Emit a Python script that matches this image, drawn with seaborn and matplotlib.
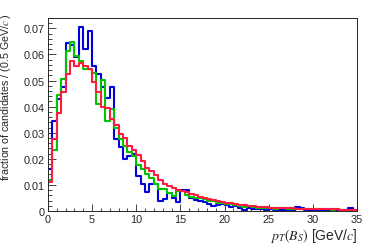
import numpy as np
import pandas as pd
import seaborn as sns
import matplotlib.pyplot as plt

# bin edges, 0.5 GeV wide
edges = np.arange(0, 35.01, 0.5)
centers = 0.5 * (edges[:-1] + edges[1:])

blue = [0.016, 0.0345, 0.043, 0.0475, 0.0645, 0.0635, 0.059, 0.0705, 0.062, 0.069,
        0.0554, 0.0525, 0.0475, 0.0435, 0.0474, 0.0276, 0.0244, 0.020, 0.021, 0.022,
        0.0135, 0.0105, 0.0072, 0.0105, 0.0105, 0.004, 0.0045, 0.0068, 0.005, 0.0034,
        0.0082, 0.0082, 0.005, 0.0042, 0.004, 0.0035, 0.0025, 0.002, 0.0022, 0.0025,
        0.0022, 0.0015, 0.0018, 0.0012, 0.0005, 0.001, 0.0008, 0.0006, 0.0008, 0.0005,
        0.0006, 0.0004, 0.0005, 0.0003, 0.0004, 0.0003, 0.0015, 0.0012, 0.0004, 0.0003,
        0.0004, 0.0003, 0.0005, 0.0002, 0.0004, 0.0003, 0.0003, 0.0002, 0.001, 0.0003]

green = [0.012, 0.0235, 0.0445, 0.0505, 0.0612, 0.0646, 0.0595, 0.0575, 0.0545, 0.0544,
         0.053, 0.041, 0.0503, 0.0346, 0.039, 0.032, 0.0276, 0.025, 0.0225, 0.021,
         0.0175, 0.016, 0.0142, 0.0128, 0.0102, 0.0083, 0.0083, 0.007, 0.0058, 0.0075,
         0.0078, 0.006, 0.0055, 0.005, 0.0048, 0.0045, 0.004, 0.0038, 0.0032, 0.003,
         0.0028, 0.0025, 0.0022, 0.002, 0.0016, 0.0018, 0.0014, 0.0012, 0.0012, 0.001,
         0.0012, 0.0009, 0.001, 0.0012, 0.0008, 0.0009, 0.0007, 0.0008, 0.0006, 0.0007,
         0.0006, 0.0007, 0.0009, 0.0006, 0.0005, 0.0006, 0.0005, 0.0005, 0.0004, 0.0004]

red = [0.011, 0.0276, 0.0375, 0.0455, 0.0525, 0.0576, 0.0557, 0.0566, 0.0557, 0.0545,
       0.0495, 0.0455, 0.040, 0.0395, 0.0352, 0.033, 0.0295, 0.028, 0.025, 0.0235,
       0.0215, 0.0193, 0.0165, 0.0155, 0.0138, 0.012, 0.0104, 0.0095, 0.0088, 0.008,
       0.0076, 0.0072, 0.0066, 0.006, 0.0055, 0.005, 0.0047, 0.0042, 0.0038, 0.0035,
       0.0032, 0.003, 0.0027, 0.0024, 0.0022, 0.002, 0.0019, 0.0017, 0.0016, 0.0014,
       0.0013, 0.0012, 0.0012, 0.0011, 0.001, 0.001, 0.0009, 0.0009, 0.0008, 0.0008,
       0.0008, 0.0007, 0.0007, 0.0006, 0.0006, 0.0006, 0.0005, 0.0005, 0.0005, 0.0004]

sns.set_style('ticks')
plt.rcParams['font.family'] = ['Liberation Sans', 'DejaVu Sans']
plt.rcParams['mathtext.fontset'] = 'stix'

fig = plt.figure(figsize=(3.74, 2.53), dpi=100)
ax = fig.add_axes([0.128, 0.162, 0.827, 0.763])

for vals, col in [(blue, '#0000dd'), (green, '#00c400'), (red, '#ff1a40')]:
    df = pd.DataFrame({'pt': centers, 'frac': vals})
    sns.histplot(data=df, x='pt', weights='frac', bins=list(edges), element='step',
                 fill=False, color=col, linewidth=1.5, ax=ax)

ax.set_xlim(0, 35)
ax.set_ylim(0, 0.074)
ax.set_xticks(np.arange(0, 36, 5))
ax.set_xticks(np.arange(0, 36, 1), minor=True)
ax.set_yticks(np.arange(0, 0.071, 0.01))
ax.set_yticks(np.arange(0, 0.0741, 0.002), minor=True)
ax.set_yticklabels(['0'] + ['%.2f' % v for v in np.arange(0.01, 0.071, 0.01)])
ax.tick_params(axis='both', which='both', direction='in', labelsize=7.8, width=0.6,
               top=False, right=False, pad=2)
ax.tick_params(axis='y', which='major', length=6)
ax.tick_params(axis='y', which='minor', length=3)
ax.tick_params(axis='x', which='major', length=5)
ax.tick_params(axis='x', which='minor', length=2.5)
for s in ax.spines.values():
    s.set_linewidth(0.7)

# style plot
ax.set_xlabel(r'$p_{T}(B_{S})$ [GeV/$c$]', fontsize=10, ha='right', va='top')
ax.set_ylabel(r'fraction of candidates / (0.5 GeV/$c$ )', fontsize=7.7, ha='right', va='center')
ax.xaxis.set_label_coords(1.0, -0.08)
ax.yaxis.set_label_coords(-0.135, 1.03)

plt.savefig('out.png', dpi=100)
